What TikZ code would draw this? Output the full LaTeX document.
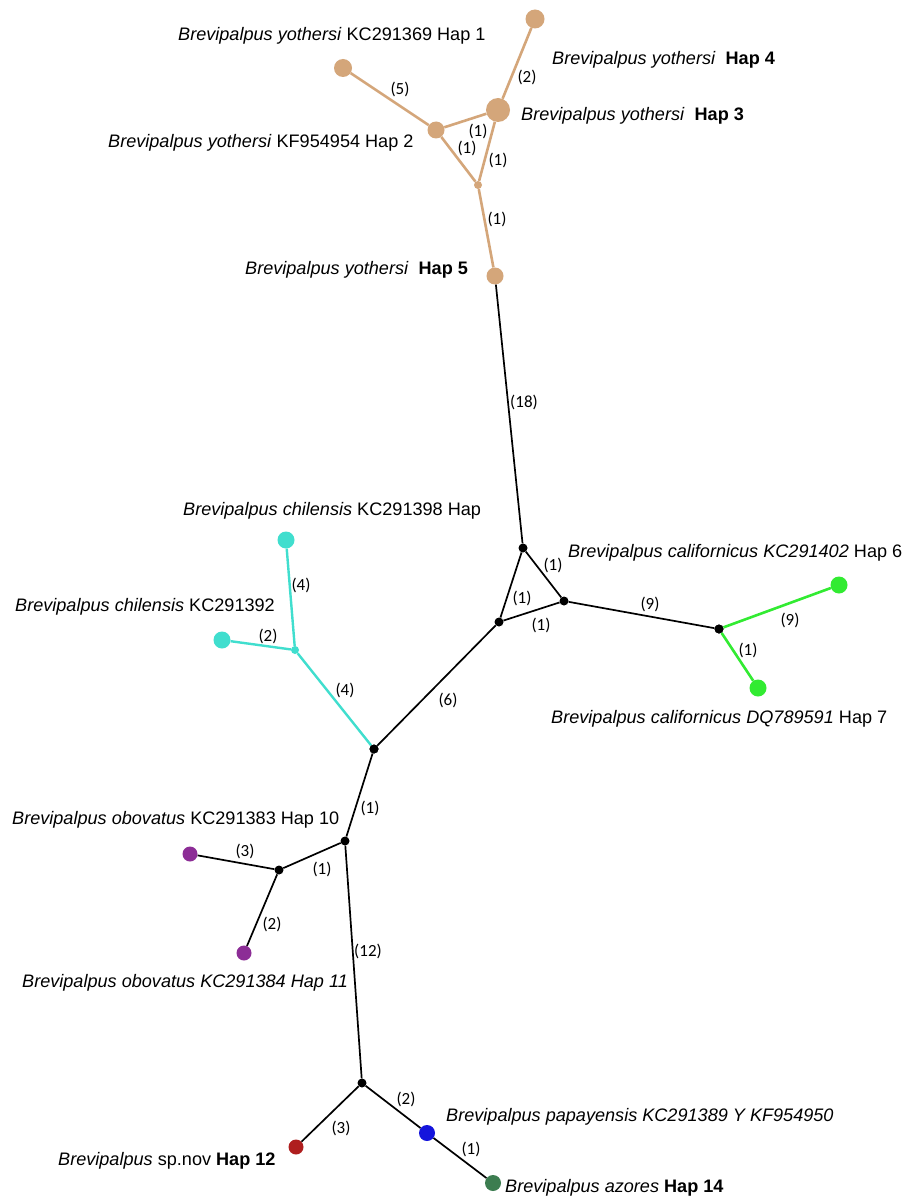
\documentclass[tikz,border=0pt]{standalone}
\usepackage{fontspec}
\setmainfont{Liberation Sans}
\newfontfamily\lblfont{Carlito}
\definecolor{tan}{RGB}{212,166,122}
\definecolor{cyanh}{RGB}{64,222,206}
\definecolor{greenh}{RGB}{50,235,50}
\definecolor{purph}{RGB}{140,45,150}
\definecolor{redh}{RGB}{175,30,30}
\definecolor{blueh}{RGB}{20,20,220}
\definecolor{dgreenh}{RGB}{60,125,80}
\tikzset{
  hap/.style={circle, inner sep=0pt, minimum size=#1},
  med/.style={circle, fill=black, inner sep=0pt, minimum size=9pt},
  blk/.style={draw=black, line width=1.7pt},
  tanl/.style={draw=tan, line width=2.6pt},
  cyl/.style={draw=cyanh, line width=2.4pt},
  grl/.style={draw=greenh, line width=2.6pt},
  el/.style={font=\lblfont\fontsize{17}{19}\selectfont, inner sep=0pt},
  tx/.style={font=\fontsize{18.1}{21}\selectfont, anchor=west, inner sep=0pt},
}
\begin{document}
\begin{tikzpicture}[x=1pt,y=-1pt]
\useasboundingbox[fill=white] (0,0) rectangle (907,1201);
% tan haplotypes
\node[hap=19pt, fill=tan] (h4) at (535,19) {};
\node[hap=18pt, fill=tan] (h1) at (343,68) {};
\node[hap=24pt, fill=tan] (h3) at (498,110) {};
\node[hap=17pt, fill=tan] (h2) at (436,130) {};
\node[hap=8pt, fill=tan] (mt) at (478,185) {};
\node[hap=17pt, fill=tan] (h5) at (495,276) {};
% black medians
\node[med] (a) at (523,548) {};
\node[med] (b) at (564,601) {};
\node[med] (c) at (499,622) {};
\node[med] (d) at (719,629) {};
\node[med] (e) at (374,749) {};
\node[med] (g) at (345,841) {};
\node[med] (hh) at (279,870) {};
\node[med] (i) at (362,1083) {};
% green
\node[hap=17pt, fill=greenh] (h6) at (839,585) {};
\node[hap=17pt, fill=greenh] (h7) at (758,688) {};
% cyan
\node[hap=8pt, fill=cyanh] (f) at (295,650) {};
\node[hap=17pt, fill=cyanh] (c98) at (286,540) {};
\node[hap=17pt, fill=cyanh] (c92) at (222,640) {};
% purple
\node[hap=15pt, fill=purph] (h10) at (190,854) {};
\node[hap=15pt, fill=purph] (h11) at (244,953) {};
% bottom
\node[hap=15pt, fill=redh] (h12) at (296,1147) {};
\node[hap=16pt, fill=blueh] (h13) at (427,1133) {};
\node[hap=16pt, fill=dgreenh] (h14) at (493,1183) {};

% edges tan
\draw[tanl] (h4) -- (h3);
\draw[tanl] (h1) -- (h2);
\draw[tanl] (h2) -- (h3);
\draw[tanl] (h2) -- (mt);
\draw[tanl] (h3) -- (mt);
\draw[tanl] (mt) -- (h5);
% edges black
\draw[blk] (h5) -- (a);
\draw[blk] (a) -- (b);
\draw[blk] (a) -- (c);
\draw[blk] (b) -- (c);
\draw[blk] (b) -- (d);
\draw[blk] (c) -- (e);
\draw[blk] (e) -- (g);
\draw[blk] (g) -- (hh);
\draw[blk] (hh) -- (h10);
\draw[blk] (hh) -- (h11);
\draw[blk] (g) -- (i);
\draw[blk] (i) -- (h12);
\draw[blk] (i) -- (h13);
\draw[blk] (h13) -- (h14);
% green / cyan edges
\draw[grl] (d) -- (h6);
\draw[grl] (d) -- (h7);
\draw[cyl] (e) -- (f);
\draw[cyl] (f) -- (c98);
\draw[cyl] (f) -- (c92);
\node[med] at (d) {};
\node[med] at (e) {};

% edge labels
\node[el] (l1) at (400,89) {(5)};
\node[el] (l2) at (527,77) {(2)};
\node[el] (l3) at (478,131) {(1)};
\node[el] (l4) at (467,148) {(1)};
\node[el] (l5) at (498,160) {(1)};
\node[el] (l6) at (497,219) {(1)};
\node[el] (l7) at (524,402) {(18)};
\node[el] (l8) at (553,565) {(1)};
\node[el] (l9) at (522,598) {(1)};
\node[el] (l10) at (541,625) {(1)};
\node[el] (l11) at (650,604) {(9)};
\node[el] (l12) at (790,620) {(9)};
\node[el] (l13) at (748,650) {(1)};
\node[el] (l14) at (448,700) {(6)};
\node[el] (l15) at (345,690) {(4)};
\node[el] (l16) at (301,585) {(4)};
\node[el] (l17) at (268,636) {(2)};
\node[el] (l18) at (370,808) {(1)};
\node[el] (l19) at (322,869) {(1)};
\node[el] (l20) at (245,851) {(3)};
\node[el] (l21) at (272,924) {(2)};
\node[el] (l22) at (368,951) {(12)};
\node[el] (l23) at (341,1128) {(3)};
\node[el] (l24) at (406,1099) {(2)};
\node[el] (l25) at (471,1149) {(1)};

% haplotype labels
\node[tx] (t1) at (178,36) {\textit{Brevipalpus yothersi} KC291369 Hap 1};
\node[tx] (t4) at (552,60) {\textit{Brevipalpus yothersi}\ \ \textbf{Hap 4}};
\node[tx] (t3) at (521,116) {\textit{Brevipalpus yothersi}\ \ \textbf{Hap 3}};
\node[tx] (t2) at (108,143) {\textit{Brevipalpus yothersi} KF954954 Hap 2};
\node[tx] (t5) at (245,270) {\textit{Brevipalpus yothersi}\ \ \textbf{Hap 5}};
\node[tx] (t98) at (183,511) {\textit{Brevipalpus chilensis} KC291398 Hap};
\node[tx] (t92) at (15,607) {\textit{Brevipalpus chilensis} KC291392};
\node[tx] (t6) at (568,553) {\textit{Brevipalpus californicus KC291402} Hap 6};
\node[tx] (t7) at (551,719) {\textit{Brevipalpus californicus DQ789591} Hap 7};
\node[tx] (t10) at (12,820) {\textit{Brevipalpus obovatus} KC291383 Hap 10};
\node[tx] (t11) at (22,983) {\textit{Brevipalpus obovatus KC291384 Hap 11}};
\node[tx] (t12) at (58,1161) {\textit{Brevipalpus} sp.nov \textbf{Hap 12}};
\node[tx] (t13) at (446,1117) {\textit{Brevipalpus papayensis KC291389 Y KF954950}};
\node[tx] (t14) at (505,1188) {\textit{Brevipalpus azores} \textbf{Hap 14}};
\end{tikzpicture}
\end{document}
